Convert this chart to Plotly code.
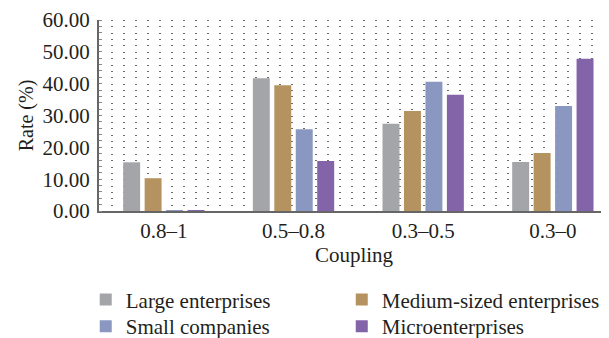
import plotly.graph_objects as go

categories = ["0.8–1", "0.5–0.8", "0.3–0.5", "0.3–0"]
large = [15.3, 41.7, 27.4, 15.4]
medium = [10.3, 39.5, 31.4, 18.2]
small = [0.2, 25.7, 40.6, 33.0]
micro = [0.2, 15.7, 36.5, 47.8]
y_ticks = [0, 10, 20, 30, 40, 50, 60]

series = [
    ("Large enterprises", large, "#A4A5A9", "legend"),
    ("Medium-sized enterprises", medium, "#B59360", "legend2"),
    ("Small companies", small, "#8A98C1", "legend3"),
    ("Microenterprises", micro, "#8464A8", "legend4"),
]

xpos = list(range(len(categories)))
FONT = "Liberation Serif"
TXT = "#231f20"
FS = 21

fig = go.Figure()
for name, vals, color, leg in series:
    fig.add_trace(go.Bar(x=xpos, y=vals, name=name, marker_color=color,
                         marker_line_width=0, legend=leg))

def leg(x, y):
    return dict(x=x, y=y, xanchor="left", yanchor="middle", orientation="v",
                font=dict(family=FONT, size=FS, color=TXT),
                bgcolor="rgba(0,0,0,0)", itemsizing="constant")

# page body adds an 8px offset, so the figure is sized 8px smaller
fig.update_layout(
    width=601, height=330,
    margin=dict(l=91, r=0, t=12, b=127, autoexpand=False),
    paper_bgcolor="white", plot_bgcolor="white",
    barmode="group", bargap=0.338, bargroupgap=0.21,
    font=dict(family=FONT, size=FS, color=TXT),
    showlegend=True,
    legend=leg(-0.026, -0.465),
    legend2=leg(0.476, -0.465),
    legend3=leg(-0.026, -0.605),
    legend4=leg(0.476, -0.605),
)

fig.update_xaxes(
    range=[-0.5, 3.433],
    tickmode="array", tickvals=xpos, ticktext=categories,
    showgrid=False, zeroline=False,
    showline=True, linecolor="#666666", linewidth=2,
    ticks="", ticklabelstandoff=0,
    tickfont=dict(family=FONT, size=FS, color=TXT),
    title=dict(text="Coupling", font=dict(family=FONT, size=FS, color=TXT), standoff=4),
    minor=dict(tickmode="linear", tick0=-0.402, dtick=0.09254, showgrid=True,
               gridcolor="#6a6a6a", gridwidth=1.5, griddash="1px,5.37px", ticks=""),
)

fig.update_yaxes(
    range=[0, 60], tickmode="array", tickvals=y_ticks,
    tickformat=".2f", showgrid=False, zeroline=False,
    showline=True, linecolor="#666666", linewidth=2,
    ticks="", ticklabelstandoff=3,
    tickfont=dict(family=FONT, size=FS, color=TXT),
    title=dict(text="Rate (%)", font=dict(family=FONT, size=FS - 1, color=TXT), standoff=4),
    minor=dict(tickmode="linear", tick0=0, dtick=2, ticks="inside", ticklen=3,
               tickcolor="#888888", tickwidth=1, showgrid=False),
)

fig.write_html("out.html")
